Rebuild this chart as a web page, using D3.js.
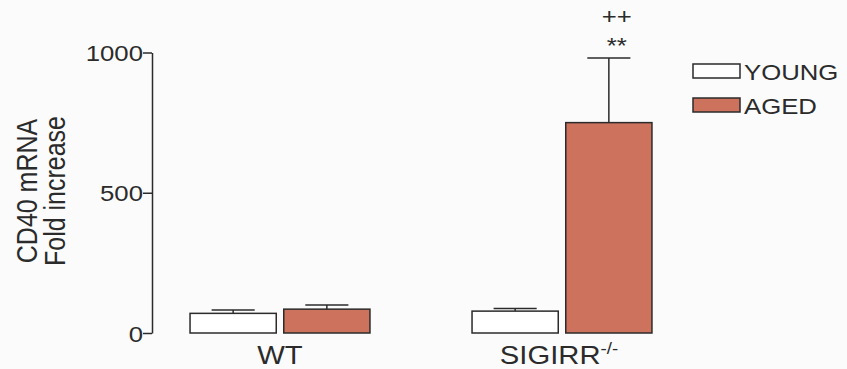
<!DOCTYPE html>
<html>
<head>
<meta charset="utf-8">
<script src="https://cdn.jsdelivr.net/npm/d3@7"></script>
<style>
  html, body { margin: 0; padding: 0; background: #fbfbfb; }
  svg { display: block; font-family: "Liberation Sans", Arial, Helvetica, sans-serif; }
</style>
</head>
<body>
<svg id="chart" width="847" height="369"></svg>
<script>
// CD40 mRNA fold increase, young vs aged, WT and SIGIRR-/- mice
const groups = ["WT", "SIGIRR"];
const series = ["YOUNG", "AGED"];
const youngMean = [70, 78];
const youngSem  = [12, 9];
const agedMean  = [85, 750];
const agedSem   = [15, 230];
const yTicks = [0, 500, 1000];
const sigPlus = ["", "++"];
const sigStar = ["", "**"];

const ink = "#2b2b2b";
const fills = { YOUNG: "#ffffff", AGED: "#cd725d" };
const sx = 1.17; // horizontal widening of all lettering

const svg = d3.select("#chart");

const rows = [];
groups.forEach((g, i) => {
  rows.push({ group: g, series: "YOUNG", mean: youngMean[i], sem: youngSem[i] });
  rows.push({ group: g, series: "AGED", mean: agedMean[i], sem: agedSem[i] });
});

const y = d3.scaleLinear().domain([0, 1000]).range([333, 52.5]);
const x0 = d3.scaleBand().domain(groups).range([139, 703])
  .paddingInner(0.362).paddingOuter(0.181);
const x1 = d3.scaleBand().domain(series).range([0, x0.bandwidth()]).paddingInner(0.08);

function label(sel, x, yy, txt, opts = {}) {
  const t = sel.append("text")
    .attr("transform", `translate(${x},${yy}) scale(${sx},1)` + (opts.rotate ? ` rotate(${opts.rotate})` : ""))
    .attr("text-anchor", opts.anchor || "start")
    .attr("font-size", opts.size || 22)
    .attr("fill", ink);
  t.text(txt);
  return t;
}

// Y axis
const yAxis = d3.axisLeft(y).tickValues(yTicks).tickFormat(d3.format("d"))
  .tickSize(9).tickSizeOuter(0).tickPadding(0);
const ag = svg.append("g").attr("transform", "translate(152,0)").call(yAxis);
ag.select(".domain").attr("stroke", ink).attr("stroke-width", 1.5);
ag.selectAll(".tick line").attr("stroke", ink).attr("stroke-width", 1.5);
ag.selectAll(".tick text")
  .attr("x", null).attr("dy", null)
  .attr("transform", `translate(-9,8) scale(${sx},1)`)
  .attr("font-size", 22)
  .attr("font-family", "Liberation Sans, Arial, sans-serif")
  .attr("fill", ink);

// Axis title (two lines, rotated)
const yMid = 191;
label(svg, 37, yMid, "CD40 mRNA", { rotate: -90, anchor: "middle", size: 25 });
label(svg, 65, yMid, "Fold increase", { rotate: -90, anchor: "middle", size: 25 });

// Bars
const gBars = svg.append("g");
gBars.selectAll("rect.bar").data(rows).join("rect")
  .attr("class", "bar")
  .attr("x", d => x0(d.group) + x1(d.series))
  .attr("y", d => y(d.mean))
  .attr("width", x1.bandwidth())
  .attr("height", d => y(0) - y(d.mean))
  .attr("fill", d => fills[d.series])
  .attr("stroke", ink)
  .attr("stroke-width", 1.5);

// Error bars (upper SEM)
const capW = x1.bandwidth() / 2;
const eb = gBars.selectAll("g.err").data(rows).join("g").attr("class", "err");
eb.append("line")
  .attr("x1", d => x0(d.group) + x1(d.series) + x1.bandwidth() / 2)
  .attr("x2", d => x0(d.group) + x1(d.series) + x1.bandwidth() / 2)
  .attr("y1", d => y(d.mean))
  .attr("y2", d => y(d.mean + d.sem))
  .attr("stroke", ink).attr("stroke-width", 1.5);
eb.append("line")
  .attr("x1", d => x0(d.group) + x1(d.series) + x1.bandwidth() / 2 - capW / 2)
  .attr("x2", d => x0(d.group) + x1(d.series) + x1.bandwidth() / 2 + capW / 2)
  .attr("y1", d => y(d.mean + d.sem))
  .attr("y2", d => y(d.mean + d.sem))
  .attr("stroke", ink).attr("stroke-width", 1.5);

// Significance marks above aged bars
groups.forEach((g, i) => {
  if (!sigPlus[i]) return;
  const cx = x0(g) + x1("AGED") + x1.bandwidth() / 2 + 8;
  const top = y(agedMean[i] + agedSem[i]);
  label(svg, cx, top - 34, sigPlus[i], { anchor: "middle", size: 22 });
  label(svg, cx, top - 5, sigStar[i], { anchor: "middle", size: 22 });
});

// Category labels
const catY = 364;
label(svg, x0("WT") + x0.bandwidth() / 2, catY, "WT", { anchor: "middle", size: 25 });
const sig = label(svg, x0("SIGIRR") + x0.bandwidth() / 2 - 3, catY, "", { anchor: "middle", size: 25 });
sig.append("tspan").text("SIGIRR");
sig.append("tspan").attr("font-size", 16).attr("dy", -10).text("-/-");

// Legend
const leg = svg.append("g");
series.forEach((s, i) => {
  const ly = 64 + i * 34;
  leg.append("rect")
    .attr("x", 693).attr("y", ly).attr("width", 47).attr("height", 14)
    .attr("fill", fills[s]).attr("stroke", ink).attr("stroke-width", 1.5);
  label(leg, 744, ly + 15.5, s, { size: 22 });
});
</script>
</body>
</html>
